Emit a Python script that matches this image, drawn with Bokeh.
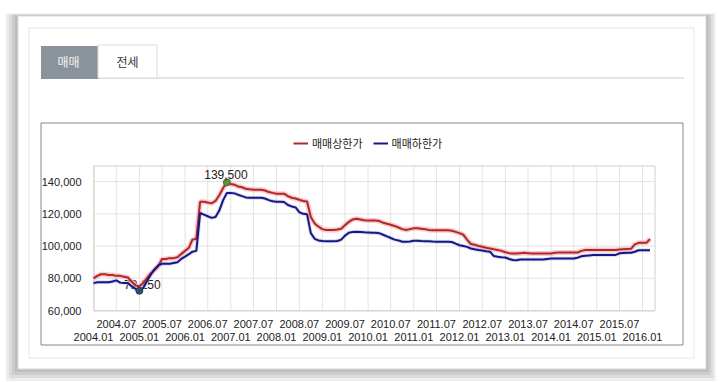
import pandas as pd
from bokeh.plotting import figure
from bokeh.models import (Legend, LegendItem, LinearAxis, DatetimeAxis, DatetimeTickFormatter,
                          NumeralTickFormatter, FixedTicker, Range1d)
from bokeh.core.properties import value
from bokeh.embed import file_html
from bokeh.resources import INLINE

# ---------------- data ----------------
months = pd.date_range("2004-01-01", periods=147, freq="MS")
upper = [80000, 81500, 82500, 82500, 82000, 82000, 81500, 81500, 81000, 80500,
         78000, 75500, 75000, 77000, 80000, 83000, 85000, 87500, 92000, 92000,
         92500, 92500, 93000, 95000, 97000, 99000, 104000, 104500, 127500, 127500,
         127000, 126500, 128000, 131500, 136000, 139500, 138500, 138000, 137000, 136500,
         135500, 135200, 135000, 135000, 135000, 134500, 133500, 133000, 132500, 132500,
         132500, 131000, 130000, 129500, 128700, 128000, 127700, 118000, 114000, 112000,
         110500, 110000, 110000, 110000, 110300, 110800, 113000, 115000, 116500, 117000,
         116500, 116000, 115800, 115800, 115800, 115500, 114500, 113800, 113200, 112500,
         111500, 110500, 110000, 110500, 111000, 111000, 110800, 110500, 110000, 109800,
         109800, 109800, 109800, 109800, 109500, 108800, 108000, 107000, 104000, 101300,
         100800, 100000, 99600, 99000, 98500, 98000, 97500, 97000, 96200, 95600,
         95400, 95400, 95600, 95800, 95600, 95400, 95400, 95400, 95400, 95400,
         95400, 95800, 96000, 96000, 96000, 96000, 96000, 96000, 97000, 97500,
         97500, 97500, 97500, 97500, 97500, 97500, 97500, 97600, 97800, 98000,
         98200, 98300, 101000, 102000, 102000, 102000, 104400]
lower = [77000, 77500, 77500, 77500, 77500, 78000, 78700, 77300, 77000, 77000,
         75000, 73500, 72250, 74000, 78000, 82000, 85500, 88000, 89000, 89000,
         89000, 89500, 90000, 92000, 93500, 95000, 96500, 97000, 120500, 119500,
         118500, 117500, 118000, 122000, 128500, 133000, 133000, 132700, 131800, 131000,
         130200, 130000, 130000, 130000, 130000, 129500, 128500, 127800, 127500, 127500,
         127300, 125500, 124600, 124000, 121000, 120000, 119800, 108000, 104500, 103500,
         103100, 103000, 103000, 103000, 103100, 104000, 106500, 108300, 108800, 108900,
         108700, 108500, 108400, 108300, 108300, 108000, 107000, 106000, 105000, 104000,
         103500, 102700, 102700, 102800, 103300, 103300, 103100, 103000, 103000, 102800,
         102700, 102700, 102700, 102700, 102500, 101500, 100500, 100000, 99500, 98500,
         98000, 97500, 97200, 96800, 96500, 93800, 93300, 93000, 92900, 92000,
         91300, 91250, 91600, 91700, 91700, 91700, 91700, 91700, 91700, 92000,
         92300, 92300, 92300, 92300, 92300, 92300, 92300, 92800, 93700, 94000,
         94200, 94400, 94400, 94400, 94400, 94400, 94400, 94500, 95500, 95700,
         95800, 95800, 96500, 97400, 97400, 97400, 97400]
series_names = ["매매상한가", "매매하한가"]
tab_labels = ["매매", "전세"]
y_ticks = [60000, 80000, 100000, 120000, 140000]
y_min, y_max = 60000, 150000
jul_ticks = pd.date_range("2004-07-01", "2015-07-01", freq="12MS")
jan_ticks = pd.date_range("2004-01-01", "2016-01-01", freq="12MS")

# ---------------- geometry (page pixels) ----------------
W, H = 720, 382
PL, PT = 0, 0                  # canvas origin on the page
FX0, FX1, FY0, FY1 = 93, 654, 165, 310   # plot area on the page
X_2016 = 642

def ms(t):
    return pd.Timestamp(t).value / 1e6

t0 = ms(months[0])
ms_per_px = (ms("2016-01-01") - t0) / (X_2016 - FX0)
x_start = t0 - (FX0 - PL) * ms_per_px
x_end = t0 + (PL + W - FX0) * ms_per_px
t_frame_end = t0 + (FX1 - FX0) * ms_per_px
v_per_px = (y_max - y_min) / (FY1 - FY0)
y_start = y_min - (PT + H - FY1) * v_per_px
y_end = y_min + (FY1 - PT) * v_per_px

p = figure(width=W, height=H, output_backend="svg", toolbar_location=None,
           x_axis_type=None, y_axis_type=None,
           x_range=Range1d(x_start, x_end), y_range=Range1d(y_start, y_end),
           min_border=0, outline_line_color=None)
p.border_fill_color = "white"
p.background_fill_color = "white"
p.extra_x_ranges = {"px": Range1d(PL, PL + W)}
p.extra_y_ranges = {"px": Range1d(PT + H, PT)}

def box(l, t, r, b, fill=None, line=None, alpha=1.0):
    kw = dict(left=l + 0.5, right=r + 0.5, top=t + 0.5, bottom=b + 0.5,
              x_range_name="px", y_range_name="px")
    if fill is None:
        kw.update(fill_alpha=0)
    else:
        kw.update(fill_color=fill, fill_alpha=alpha)
    if line is None:
        kw.update(line_alpha=0)
    else:
        kw.update(line_color=line, line_width=1)
    p.quad(**kw)

# card shadow
for d in [12, 9, 6, 3]:
    box(17 - d, 15 - d * 0.2, 705 + d * 0.8, 368 + d, fill="#000000", alpha=0.07)
# card
box(17, 15, 705, 368, fill="white", line="#d9d9d9")
box(28, 27, 693, 357, line="#e6e6e6")
# tabs
box(40, 77, 683, 77, line="#dadada")
box(40, 45, 97, 78, fill="#8a939b")
box(97, 44, 156, 77, fill="white", line="#dadada")
p.text(x=[68, 127], y=[61, 61], text=tab_labels, x_range_name="px", y_range_name="px",
       text_align="center", text_baseline="middle", text_color=["#f4f4f4", "#333333"],
       text_font=value("Noto Sans CJK KR"), text_font_size="12px")
# chart box
box(40, 122, 682, 344, line="#888888")

# ---------------- grid (from ticks, via data scales) ----------------
vticks = list(jan_ticks) + list(jul_ticks)
p.segment(x0=vticks, y0=[y_min] * len(vticks), x1=vticks, y1=[y_max] * len(vticks),
          line_color="#e3e3e3", line_width=1)
p.segment(x0=[t0] * len(y_ticks), y0=y_ticks, x1=[t_frame_end] * len(y_ticks), y1=y_ticks,
          line_color="#e3e3e3", line_width=1)
box(FX0, FY0, FX1, FY1, line="#cfcfcf")

# ---------------- axes ----------------
fmt = DatetimeTickFormatter(days="%Y.%m", months="%Y.%m", years="%Y.%m")
for ticks, standoff in [(jul_ticks, 3), (jan_ticks, 16)]:
    ax = DatetimeAxis(ticker=FixedTicker(ticks=[ms(t) for t in ticks]), formatter=fmt,
                      fixed_location=y_min)
    ax.axis_line_color = None
    ax.major_tick_line_color = None
    ax.minor_tick_line_color = None
    ax.major_label_standoff = standoff
    ax.major_label_text_font = "Liberation Sans"
    ax.major_label_text_font_size = "11px"
    ax.major_label_text_color = "#222222"
    p.add_layout(ax, "below")

yax = LinearAxis(ticker=FixedTicker(ticks=y_ticks), formatter=NumeralTickFormatter(format="0,0"),
                 fixed_location=t0)
yax.axis_line_color = None
yax.major_tick_line_color = None
yax.minor_tick_line_color = None
yax.major_label_standoff = 6
yax.major_label_text_font = "Liberation Sans"
yax.major_label_text_font_size = "11px"
yax.major_label_text_color = "#222222"
p.add_layout(yax, "left")

imin = lower.index(min(lower))
imax = upper.index(max(upper))
# min label sits under the lines
p.text(x=[months[imin]], y=[lower[imin]], text=[f"{lower[imin]:,}"], text_align="center",
       text_baseline="bottom", x_offset=3, y_offset=-2, text_color="#222222",
       text_font=value("Liberation Sans"), text_font_size="12px")

# ---------------- lines ----------------
p.line(months, upper, line_color="#f2b5b5", line_width=5, line_alpha=0.7)
p.line(months, lower, line_color="#b9bde0", line_width=4, line_alpha=0.5)
r_up = p.line(months, upper, line_color="#b3262b", line_width=2)
r_lo = p.line(months, lower, line_color="#16168a", line_width=2)

p.scatter([months[imax]], [upper[imax]], size=7, fill_color="#5e8f3a", line_color="#466b2a")
p.scatter([months[imin]], [lower[imin]], size=7, fill_color="#2f4f6f", line_color="#223a52")
p.text(x=[months[imax]], y=[upper[imax]], text=[f"{upper[imax]:,}"], text_align="center",
       text_baseline="bottom", x_offset=-1, y_offset=-3, text_color="#222222",
       text_font=value("Liberation Sans"), text_font_size="12px")

legend = Legend(items=[LegendItem(label=series_names[0], renderers=[r_up]),
                       LegendItem(label=series_names[1], renderers=[r_lo])],
                orientation="horizontal", location=(293 - PL, PT + H - 151),
                label_text_font="Noto Sans CJK KR", label_text_font_size="11px",
                label_text_color="#222222", glyph_width=15, glyph_height=14, label_height=14,
                label_standoff=4, spacing=10, padding=0, margin=0,
                border_line_alpha=0, background_fill_alpha=0)
p.add_layout(legend)

open("out.html", "w").write(file_html(p, INLINE))
